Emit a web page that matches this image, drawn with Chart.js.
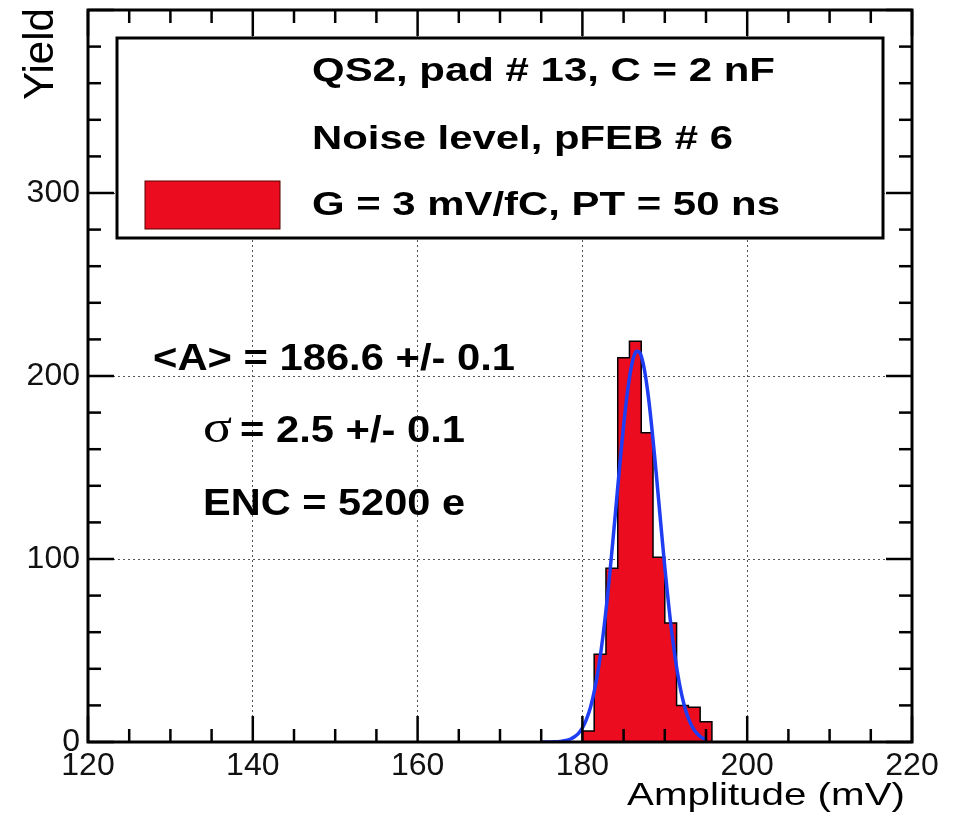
<!DOCTYPE html>
<html>
<head>
<meta charset="utf-8">
<script src="https://cdn.jsdelivr.net/npm/chart.js@4.4.1/dist/chart.umd.min.js"></script>
<style>
  html, body { margin: 0; padding: 0; background: #fff; }
  #wrap { width: 957px; height: 823px; }
</style>
</head>
<body>
<div id="wrap"><canvas id="chart"></canvas></div>
<script>
// histogram: 70 bins over 120-220 mV, only the filled ones listed
const binWidth = 100 / 70;
const binLowEdges = [180.00, 181.43, 182.86, 184.29, 185.71, 187.14, 188.57, 190.00, 191.43, 192.86, 194.29];
const binCounts = [6, 48, 95, 210, 219, 169, 101, 65, 20, 19, 11];

// gaussian fit curve, every 0.5 mV
const fitX = [175, 175.5, 176, 176.5, 177, 177.5, 178, 178.5, 179, 179.5,
  180, 180.5, 181, 181.5, 182, 182.5, 183, 183.5, 184, 184.5,
  185, 185.5, 186, 186.5, 187, 187.5, 188, 188.5, 189, 189.5,
  190, 190.5, 191, 191.5, 192, 192.5, 193, 193.5, 194, 194.5, 195];
const fitY = [0.01, 0.02, 0.04, 0.1, 0.2, 0.4, 0.8, 1.5, 2.7, 4.6,
  7.7, 12.5, 19.3, 29.0, 41.8, 58.0, 77.7, 100.3, 124.8, 149.6,
  172.8, 192.4, 206.4, 213.4, 212.6, 204.1, 188.9, 168.4, 144.7, 119.8,
  95.6, 73.6, 54.5, 38.9, 26.8, 17.8, 11.4, 7.0, 4.2, 2.4, 1.3];

const xTicks = [120, 140, 160, 180, 200, 220];
const yTicks = [0, 100, 200, 300];
const xMinorStep = 5;
const yMinorStep = 20;

const legendLines = ["QS2, pad # 13, C = 2 nF", "Noise level, pFEB # 6", "G = 3 mV/fC, PT = 50 ns"];
const meanText = "<A> = 186.6 +/- 0.1";
const sigmaText = "= 2.5 +/- 0.1";
const encText = "ENC = 5200 e";

const FONT = "'Liberation Sans', Arial, Helvetica, sans-serif";
const RED = '#ec0c20';
const BLUE = '#1f3df2';

// outline of the histogram as a stepped line
const histPoints = [{ x: binLowEdges[0], y: 0 }];
binLowEdges.forEach((x, i) => histPoints.push({ x: x, y: binCounts[i] }));
histPoints.push({ x: binLowEdges[binLowEdges.length - 1] + binWidth, y: 0 });

const fitPoints = fitX.map((x, i) => ({ x: x, y: fitY[i] }));

// draw text squeezed/stretched to a given width (ROOT fonts run wide)
function fitText(ctx, text, x, y, font, width) {
  ctx.save();
  ctx.font = font;
  const w = ctx.measureText(text).width;
  ctx.translate(x, y);
  ctx.scale(width / w, 1);
  ctx.fillText(text, 0, 0);
  ctx.restore();
}

const rootFrame = {
  id: 'rootFrame',
  afterDatasetsDraw(chart) {
    const { ctx, chartArea: a, scales: { x, y } } = chart;
    ctx.save();
    ctx.strokeStyle = '#000';
    ctx.lineCap = 'butt';

    const seg = (x1, y1, x2, y2) => {
      ctx.beginPath();
      ctx.moveTo(x1, y1);
      ctx.lineTo(x2, y2);
      ctx.stroke();
    };

    // inward ticks on all four sides
    ctx.lineWidth = 2.5;
    for (let v = x.min; v <= x.max + 1e-9; v += xMinorStep) {
      const px = x.getPixelForValue(v);
      const len = xTicks.includes(v) ? 26 : 13;
      seg(px, a.bottom, px, a.bottom - len);
      seg(px, a.top, px, a.top + len);
    }
    for (let v = y.min; v <= y.max + 1e-9; v += yMinorStep) {
      const py = y.getPixelForValue(v);
      const len = v % 100 === 0 ? 26 : 13;
      seg(a.left, py, a.left + len, py);
      seg(a.right, py, a.right - len, py);
    }

    // frame
    ctx.lineWidth = 3;
    ctx.strokeRect(a.left, a.top, a.right - a.left, a.bottom - a.top);

    // legend box
    ctx.fillStyle = '#fff';
    ctx.fillRect(117, 38, 766, 200);
    ctx.strokeRect(117, 38, 766, 200);
    ctx.fillStyle = RED;
    ctx.fillRect(145, 181, 135, 48);
    ctx.lineWidth = 1;
    ctx.strokeStyle = '#5a0000';
    ctx.strokeRect(145, 181, 135, 48);

    ctx.fillStyle = '#000';
    ctx.textAlign = 'left';
    ctx.textBaseline = 'alphabetic';
    const bold34 = 'bold 34px ' + FONT;
    fitText(ctx, legendLines[0], 312, 81, bold34, 463);
    fitText(ctx, legendLines[1], 312, 149, bold34, 421);
    fitText(ctx, legendLines[2], 312, 215, bold34, 468);

    // fit results
    const bold37 = 'bold 37px ' + FONT;
    fitText(ctx, meanText, 153, 370, bold37, 362);
    fitText(ctx, 'σ', 203, 442, "46px 'Liberation Serif', 'Times New Roman', serif", 29);
    fitText(ctx, sigmaText, 240, 442, bold37, 225);
    fitText(ctx, encText, 203, 515, bold37, 262);

    // axis titles
    fitText(ctx, 'Amplitude (mV)', 627, 805, '32px ' + FONT, 278);
    ctx.save();
    ctx.translate(53, 100);
    ctx.rotate(-Math.PI / 2);
    fitText(ctx, 'Yield', 0, 0, '42px ' + FONT, 92);
    ctx.restore();

    ctx.restore();
  }
};

const ctx = document.getElementById('chart').getContext('2d');
new Chart(ctx, {
  type: 'line',
  data: {
    datasets: [
      {
        label: 'Gaussian fit',
        data: fitPoints,
        borderColor: BLUE,
        borderWidth: 3.5,
        pointRadius: 0,
        tension: 0.3,
        fill: false,
        order: 0
      },
      {
        label: legendLines[2],
        data: histPoints,
        stepped: 'before',
        borderColor: '#000',
        borderWidth: 1.5,
        backgroundColor: RED,
        fill: 'origin',
        pointRadius: 0,
        order: 1
      }
    ]
  },
  options: {
    responsive: true,
    maintainAspectRatio: false,
    animation: false,
    layout: { padding: { top: 10, right: 45, left: 0, bottom: 0 } },
    plugins: {
      legend: { display: false },
      tooltip: { enabled: false }
    },
    scales: {
      x: {
        type: 'linear',
        min: 120,
        max: 220,
        afterBuildTicks: s => { s.ticks = xTicks.map(v => ({ value: v })); },
        afterFit: s => { s.height = 81; s.paddingLeft = 0; s.paddingRight = 0; },
        grid: { color: '#555', lineWidth: 1, drawTicks: false },
        border: { display: false, dash: [2, 3] },
        ticks: { font: { family: FONT, size: 32 }, color: '#111', padding: 5, maxRotation: 0, autoSkip: false }
      },
      y: {
        min: 0,
        max: 400,
        afterBuildTicks: s => { s.ticks = yTicks.map(v => ({ value: v })); },
        afterFit: s => { s.width = 88; s.paddingTop = 0; s.paddingBottom = 0; },
        grid: { color: '#555', lineWidth: 1, drawTicks: false },
        border: { display: false, dash: [2, 3] },
        ticks: { font: { family: FONT, size: 32 }, color: '#111', padding: 8, autoSkip: false }
      }
    }
  },
  plugins: [rootFrame]
});
</script>
</body>
</html>
